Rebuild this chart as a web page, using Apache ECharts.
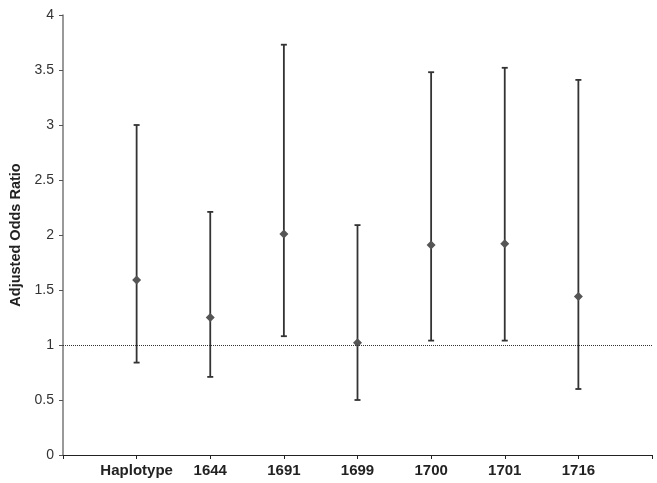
<!DOCTYPE html>
<html><head><meta charset="utf-8">
<script src="https://cdn.jsdelivr.net/npm/echarts@6/dist/echarts.min.js"></script>
<style>html,body{margin:0;padding:0;background:#fff}#c{width:657px;height:483px}</style>
</head><body><div id="c"></div>
<script>
var categories = ['Haplotype', '1644', '1691', '1699', '1700', '1701', '1716'];
var oddsRatio = [1.59, 1.25, 2.01, 1.02, 1.91, 1.92, 1.44];
var lowerCI   = [0.84, 0.71, 1.08, 0.50, 1.04, 1.04, 0.60];
var upperCI   = [3.00, 2.21, 3.73, 2.09, 3.48, 3.52, 3.41];
var yTicks = [0, 0.5, 1, 1.5, 2, 2.5, 3, 3.5, 4];
var referenceLine = 1;

var axisCats = [''].concat(categories, ['']);
var pointData = categories.map(function (c, i) { return [i + 1, oddsRatio[i]]; });
var barData = categories.map(function (c, i) { return [i + 1, lowerCI[i], upperCI[i]]; });

var chart = echarts.init(document.getElementById('c'), null, {renderer: 'canvas'});
chart.setOption({
  animation: false,
  backgroundColor: '#fff',
  grid: {left: 63, right: 5, top: 15, bottom: 28, containLabel: false},
  xAxis: {
    type: 'category', data: axisCats, boundaryGap: false,
    axisLine: {lineStyle: {color: '#222', width: 1}},
    axisTick: {show: true, inside: false, length: 4, interval: 0, lineStyle: {color: '#222'}},
    axisLabel: {interval: 0, margin: 8, fontFamily: 'Liberation Sans, Arial', fontWeight: 'bold', fontSize: 15, color: '#222'},
    splitLine: {show: false}
  },
  yAxis: {
    type: 'value', min: yTicks[0], max: yTicks[yTicks.length - 1], interval: 0.5,
    name: 'Adjusted Odds Ratio', nameLocation: 'middle', nameGap: 33,
    nameTextStyle: {fontFamily: 'Liberation Sans, Arial', fontWeight: 'bold', fontSize: 14.5, color: '#222'},
    axisLine: {show: true, lineStyle: {color: '#777', width: 1.5}},
    axisTick: {show: true, inside: false, length: 4, lineStyle: {color: '#555'}},
    axisLabel: {margin: 9, fontFamily: 'Liberation Sans, Arial', fontSize: 14, color: '#333'},
    splitLine: {show: false}
  },
  series: [
    {
      type: 'custom',
      data: barData,
      z: 2,
      renderItem: function (params, api) {
        var x = api.value(0);
        var lo = api.coord([x, api.value(1)]);
        var hi = api.coord([x, api.value(2)]);
        var w = 3;
        var st = {stroke: '#333', lineWidth: 1.8};
        return {
          type: 'group',
          children: [
            {type: 'line', shape: {x1: lo[0], y1: lo[1], x2: hi[0], y2: hi[1]}, style: st},
            {type: 'line', shape: {x1: lo[0] - w, y1: lo[1], x2: lo[0] + w, y2: lo[1]}, style: st},
            {type: 'line', shape: {x1: hi[0] - w, y1: hi[1], x2: hi[0] + w, y2: hi[1]}, style: st}
          ]
        };
      },
      markLine: {
        silent: true, symbol: 'none', label: {show: false},
        lineStyle: {type: 'dotted', color: '#333', width: 1},
        data: [{yAxis: referenceLine}]
      }
    },
    {
      type: 'scatter', data: pointData, symbol: 'diamond', symbolSize: 9, z: 3,
      itemStyle: {color: '#555', opacity: 1}
    }
  ]
});
</script></body></html>
